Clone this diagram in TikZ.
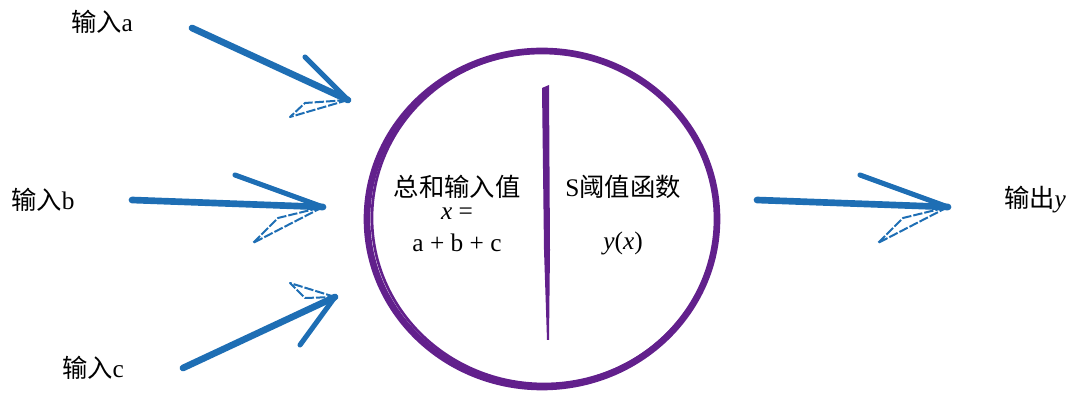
\documentclass[tikz,border=0pt]{standalone}
\usepackage{fontspec}
\setmainfont{Liberation Serif}
\newfontfamily\cjk{Noto Sans CJK SC}
\usetikzlibrary{positioning}
\definecolor{arrowblue}{RGB}{30,110,180}
\definecolor{ringpurple}{RGB}{98,32,140}

\begin{document}
\begin{tikzpicture}[x=0.75pt,y=-0.75pt,
  shaft/.style={draw=arrowblue,line width=5pt,line cap=round},
  barb/.style={draw=arrowblue,line width=3.8pt,line cap=round},
  thinbarb/.style={draw=arrowblue,line width=1.5pt,line join=round,dash pattern=on 7pt off 1.5pt},
  lbl/.style={font=\fontsize{19}{21}\selectfont}]
\useasboundingbox (0,0) rectangle (1075,398);

\def\cx{542}
\def\cy{219}

% inputs
\node[lbl] (ina) at (102,22) {{\cjk 输入}a};
\node[lbl] (inb) at (43,200) {{\cjk 输入}b};
\node[lbl] (inc) at (93,368) {{\cjk 输入}c};
\node[lbl] (out) at (1035,200) {{\cjk 输出}\textit{y}};

\coordinate (sa) at (192,28);
\coordinate (ta) at (348,100);
\coordinate (ua) at (305,57);
\coordinate (la) at (290,117);
\coordinate (ma) at (305,103);

\coordinate (sb) at (132,200);
\coordinate (tb) at (323,207);
\coordinate (ub) at (235,175);
\coordinate (lb) at (253,243);
\coordinate (mb) at (278,218);

\coordinate (sc) at (183,368);
\coordinate (tc) at (335,297);
\coordinate (uc) at (290,283);
\coordinate (lc) at (300,345);
\coordinate (mc) at (305,298);

\coordinate (so) at (757,200);
\coordinate (to) at (948,207);
\coordinate (uo) at (860,175);
\coordinate (lo) at (878,243);
\coordinate (mo) at (903,218);

\draw[shaft] (sa) -- (ta);
\draw[barb] (ta) -- (ua);
\draw[thinbarb] (ta) -- (la) -- (ma) -- cycle;

\draw[shaft] (sb) -- (tb);
\draw[barb] (tb) -- (ub);
\draw[thinbarb] (tb) -- (lb) -- (mb) -- cycle;

\draw[shaft] (sc) -- (tc);
\draw[barb] (tc) -- (lc);
\draw[thinbarb] (tc) -- (uc) -- (mc) -- cycle;

\draw[shaft] (so) -- (to);
\draw[barb] (to) -- (uo);
\draw[thinbarb] (to) -- (lo) -- (mo) -- cycle;

% neuron
\draw[ringpurple,line width=5pt] (\cx,\cy) ellipse [x radius=175, y radius=168];
\draw[ringpurple,line width=2pt] (\cx+2,\cy-1) ellipse [x radius=172, y radius=166];
\fill[ringpurple] (542,88) -- (549,85) -- (550,250) -- (549,340) -- (547,340) -- (544,250) -- cycle;

\node[lbl] (sum) at (457,187) {\cjk 总和输入值};
\node[lbl] (xeq) at (457,214) {\textit{x} =};
\node[lbl] (abc) at (457,243) {a + b + c};
\node[lbl] (sig) at (623,187) {S{\cjk 阈值函数}};
\node[lbl] (yx) at (623,243) {\textit{y}(\textit{x})};

\end{tikzpicture}
\end{document}
